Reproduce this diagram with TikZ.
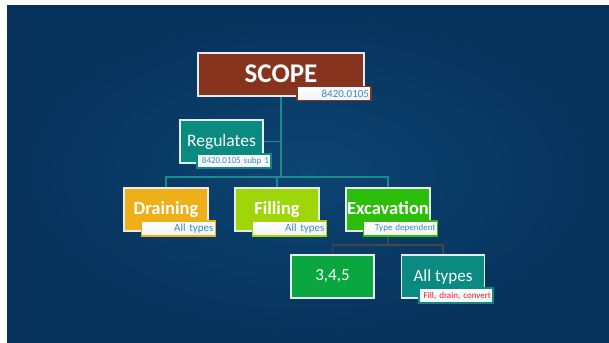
\documentclass[tikz,border=0pt]{standalone}
\usepackage{fontspec}
\setmainfont{Carlito}
\definecolor{bgin}{HTML}{0D4473}
\definecolor{bgout}{HTML}{06325B}
\definecolor{scopec}{HTML}{86341E}
\definecolor{tealc}{HTML}{0A8A80}
\definecolor{drainc}{HTML}{EFAF17}
\definecolor{fillc}{HTML}{9ED60A}
\definecolor{excc}{HTML}{2CBE0A}
\definecolor{threec}{HTML}{0AA640}
\definecolor{linkc}{HTML}{1B8C8C}
\definecolor{greylink}{HTML}{464646}
\definecolor{labtext}{HTML}{3A8AC2}
\definecolor{labred}{HTML}{E8202A}
\definecolor{boxedge}{HTML}{E4ECEC}
\newcommand{\up}[1]{\raisebox{2.5pt}{#1}}
\tikzset{
  mainbox/.style={draw=boxedge, line width=1.1pt, minimum width=#1, minimum height=43pt, inner sep=0pt, text=white},
  mainbox/.default=84pt,
  labbox/.style={draw=#1, line width=1.1pt, top color=white, bottom color=white!90!gray, text width=70pt, align=right, inner sep=2pt, minimum height=14pt, text=labtext},
  teallink/.style={draw=linkc, line width=1.2pt},
  greyconn/.style={draw=greylink, line width=1.2pt},
}
\begin{document}
\begin{tikzpicture}[x=1pt,y=-1pt]
\useasboundingbox (0,0) rectangle (609,342);
\fill[white] (0,0) rectangle (609,342);
\shade[inner color=bgin, outer color=bgout] (7,6) rectangle (609,342);

% coordinates for buses
\coordinate (bus) at (281,177);
\coordinate (ebus) at (388,245);

% main boxes
\node[mainbox=166pt, fill=scopec, font=\bfseries\fontsize{27}{30}\selectfont] (scope) at (281,74.5) {\up{SCOPE}};
\node[mainbox=83pt, fill=tealc, font=\fontsize{17.5}{20}\selectfont] (reg) at (221.5,141.5) {\up{Regulates}};
\node[mainbox, fill=drainc, font=\bfseries\fontsize{18.5}{21}\selectfont] (drain) at (166,209.5) {\up{Draining}};
\node[mainbox, fill=fillc, font=\bfseries\fontsize{18.5}{21}\selectfont] (filling) at (277,209.5) {\up{Filling}};
\node[mainbox, fill=excc, font=\bfseries\fontsize{18.5}{21}\selectfont] (exc) at (388,209.5) {\up{Excavation}};
\node[mainbox=83pt, fill=threec, font=\fontsize{17}{20}\selectfont] (three) at (332.5,276.5) {\up{3,4,5}};
\node[mainbox=83pt, fill=tealc, font=\fontsize{17}{20}\selectfont] (alltypes) at (443,276.5) {\up{All types}};

% connectors
\draw[teallink] (scope.south) -- (bus);
\draw[teallink] (reg.east) -- (reg.east -| bus);
\draw[teallink] (drain.north) |- (bus) -| (exc.north);
\draw[teallink] (filling.north) -- (filling.north |- bus);
\draw[greyconn] (exc.south) -- (ebus);
\draw[greyconn] (three.north) |- (ebus) -| (alltypes.north);

% label boxes
\node[labbox=scopec, font=\fontsize{11}{12}\selectfont] (scopelab) at (334,93.5) {8420.0105};
\node[labbox=tealc, font=\fontsize{9}{11}\selectfont] (reglab) at (234,161) {8420.0105 subp 1};
\node[labbox=drainc, font=\fontsize{11}{12}\selectfont, minimum height=15pt] (drainlab) at (178.5,228.5) {All types};
\node[labbox=fillc, font=\fontsize{11}{12}\selectfont, minimum height=15pt] (filllab) at (289.5,228.5) {All types};
\node[labbox=excc, font=\fontsize{9}{11}\selectfont, minimum height=15pt] (exclab) at (400.5,228.5) {Type dependent};
\node[labbox=tealc, text=labred, font=\fontsize{9}{11}\selectfont, minimum height=15pt] (alllab) at (456,295.5) {Fill, drain, convert};
\end{tikzpicture}
\end{document}
